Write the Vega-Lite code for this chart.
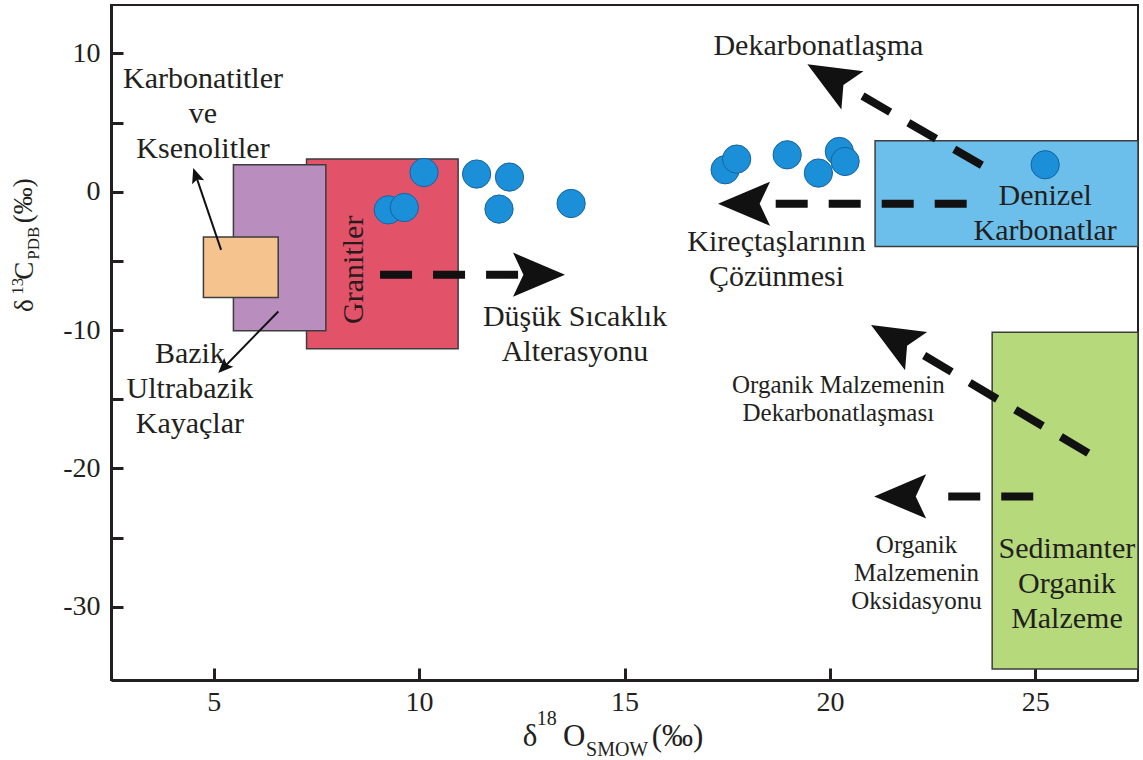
{
  "$schema": "https://vega.github.io/schema/vega-lite/v6.json",
  "width": 1027,
  "height": 675,
  "autosize": {"type": "none"},
  "padding": {"left": 111, "top": 5, "right": 5, "bottom": 80},
  "background": "white",
  "config": {
    "view": {"stroke": "#231f20", "strokeWidth": 2},
    "font": "Liberation Serif",
    "axis": {
      "grid": false,
      "labelFont": "Liberation Serif",
      "labelFontSize": 28,
      "labelColor": "#231f20",
      "domainColor": "#231f20",
      "domainWidth": 3,
      "tickColor": "#231f20",
      "tickWidth": 3,
      "tickSize": -12,
      "labelFlush": false,
      "labelOverlap": false
    }
  },
  "layer": [
    {
      "data": {"values": [
        {"name": "Granitler", "x": 7.26, "x2": 10.95, "y": 2.36, "y2": -11.35},
        {"name": "Bazik", "x": 5.48, "x2": 7.73, "y": 1.95, "y2": -10.05},
        {"name": "Karbonatitler", "x": 4.75, "x2": 6.57, "y": -3.28, "y2": -7.65},
        {"name": "Denizel", "x": 21.1, "x2": 27.5, "y": 3.69, "y2": -3.96},
        {"name": "Sedimanter", "x": 23.95, "x2": 27.5, "y": -10.15, "y2": -34.5}
      ]},
      "mark": {"type": "rect", "stroke": "#3d3d3d", "strokeWidth": 1.5, "opacity": 1},
      "encoding": {
        "x": {"field": "x", "type": "quantitative", "title": null,
          "scale": {"domain": [2.5, 27.5], "nice": false, "zero": false},
          "axis": {"values": [5, 10, 15, 20, 25], "labelPadding": 20, "title": null,
            "labelExpr": "'' + datum.value"}},
        "x2": {"field": "x2"},
        "y": {"field": "y", "type": "quantitative", "title": null,
          "scale": {"domain": [-35.3, 13.5], "nice": false, "zero": false},
          "axis": {"values": [-30, -25, -20, -15, -10, -5, 0, 5, 10], "labelPadding": 23, "title": null,
            "labelExpr": "datum.value % 10 === 0 ? '' + datum.value : ''"}},
        "y2": {"field": "y2"},
        "color": {"field": "name", "type": "nominal", "legend": null,
          "scale": {"domain": ["Granitler", "Bazik", "Karbonatitler", "Denizel", "Sedimanter"],
            "range": ["#e2536a", "#b98dbe", "#f5c38e", "#6cbfea", "#b5d97b"]}}
      }
    },
    {
      "data": {"values": [
        {"x": 10.12, "y": 1.39},
        {"x": 9.25, "y": -1.31},
        {"x": 9.64, "y": -1.14},
        {"x": 11.40, "y": 1.28},
        {"x": 12.20, "y": 1.06},
        {"x": 11.945, "y": -1.255},
        {"x": 13.70, "y": -0.85},
        {"x": 17.45, "y": 1.59},
        {"x": 17.73, "y": 2.36},
        {"x": 18.96, "y": 2.67},
        {"x": 19.72, "y": 1.35},
        {"x": 20.23, "y": 2.91},
        {"x": 20.37, "y": 2.19},
        {"x": 25.24, "y": 1.95}
      ]},
      "mark": {"type": "point", "shape": "circle", "filled": true, "size": 800, "fill": "#1b8fd8", "stroke": "#16639e", "strokeWidth": 1, "opacity": 1},
      "encoding": {
        "x": {"field": "x", "type": "quantitative", "title": null},
        "y": {"field": "y", "type": "quantitative", "title": null}
      }
    },
    {
      "data": {"values": [
        {"x": 9.05, "y": -6.0, "x2": 12.456, "y2": -6.0},
        {"x": 23.33, "y": -0.87, "x2": 18.42, "y2": -0.87},
        {"x": 23.70, "y": 1.91, "x2": 20.53, "y2": 7.37},
        {"x": 26.29, "y": -18.90, "x2": 22.13, "y2": -11.55},
        {"x": 24.95, "y": -22.03, "x2": 22.40, "y2": -22.03}
      ]},
      "mark": {"type": "rule", "color": "#111111", "strokeWidth": 8, "strokeDash": [32, 21], "strokeCap": "butt"},
      "encoding": {
        "x": {"field": "x", "type": "quantitative", "title": null},
        "y": {"field": "y", "type": "quantitative", "title": null},
        "x2": {"field": "x2"},
        "y2": {"field": "y2"}
      }
    },
    {
      "data": {"values": [
        {"x": 5.18, "y": -4.20, "x2": 4.562, "y2": 1.196},
        {"x": 6.573, "y": -8.658, "x2": 5.239, "y2": -12.721}
      ]},
      "mark": {"type": "rule", "color": "#111111", "strokeWidth": 2},
      "encoding": {
        "x": {"field": "x", "type": "quantitative", "title": null},
        "y": {"field": "y", "type": "quantitative", "title": null},
        "x2": {"field": "x2"},
        "y2": {"field": "y2"}
      }
    },
    {
      "data": {"values": [{"x": 12.919, "y": -6.0}]},
      "mark": {"type": "point", "shape": "M1,0L-1,-0.85L-0.6,0L-1,0.85Z", "filled": true, "size": 2704, "angle": 0, "color": "#111111", "opacity": 1},
      "encoding": {"x": {"field": "x", "type": "quantitative", "title": null}, "y": {"field": "y", "type": "quantitative", "title": null}}
    },
    {
      "data": {"values": [{"x": 17.91, "y": -0.87}, {"x": 21.71, "y": -22.03}]},
      "mark": {"type": "point", "shape": "M1,0L-1,-0.85L-0.6,0L-1,0.85Z", "filled": true, "size": 2704, "angle": 180, "color": "#111111", "opacity": 1},
      "encoding": {"x": {"field": "x", "type": "quantitative", "title": null}, "y": {"field": "y", "type": "quantitative", "title": null}}
    },
    {
      "data": {"values": [{"x": 20.0, "y": 8.274}, {"x": 21.55, "y": -10.58}]},
      "mark": {"type": "point", "shape": "M1,0L-1,-0.85L-0.6,0L-1,0.85Z", "filled": true, "size": 2704, "angle": 210, "color": "#111111", "opacity": 1},
      "encoding": {"x": {"field": "x", "type": "quantitative", "title": null}, "y": {"field": "y", "type": "quantitative", "title": null}}
    },
    {
      "data": {"values": [{"x": 4.562, "y": 1.196}]},
      "mark": {"type": "point", "shape": "M1,0L-1,-0.85L-0.6,0L-1,0.85Z", "filled": true, "size": 225, "angle": 251, "color": "#111111", "opacity": 1},
      "encoding": {"x": {"field": "x", "type": "quantitative", "title": null}, "y": {"field": "y", "type": "quantitative", "title": null}}
    },
    {
      "data": {"values": [{"x": 5.239, "y": -12.721}]},
      "mark": {"type": "point", "shape": "M1,0L-1,-0.85L-0.6,0L-1,0.85Z", "filled": true, "size": 225, "angle": 134, "color": "#111111", "opacity": 1},
      "encoding": {"x": {"field": "x", "type": "quantitative", "title": null}, "y": {"field": "y", "type": "quantitative", "title": null}}
    },
    {
      "data": {"values": [
        {"label": "Karbonatitler\nve\nKsenolitler", "x": 4.74, "y": 7.515},
        {"label": "Bazik\nUltrabazik\nKayaçlar", "x": 4.42, "y": -12.39},
        {"label": "Düşük Sıcaklık\nAlterasyonu", "x": 13.795, "y": -9.74},
        {"label": "Dekarbonatlaşma", "x": 19.72, "y": 9.90},
        {"label": "Kireçtaşlarının\nÇözünmesi", "x": 18.70, "y": -4.32},
        {"label": "Denizel\nKarbonatlar", "x": 25.24, "y": -0.944},
        {"label": "Sedimanter\nOrganik\nMalzeme", "x": 25.77, "y": -26.47}
      ]},
      "mark": {"type": "text", "font": "Liberation Serif", "fontSize": 30, "lineHeight": 35, "lineBreak": "\n", "align": "center", "baseline": "alphabetic", "color": "#231f20", "clip": true},
      "encoding": {
        "x": {"field": "x", "type": "quantitative", "title": null},
        "y": {"field": "y", "type": "quantitative", "title": null},
        "text": {"field": "label", "type": "nominal"}
      }
    },
    {
      "data": {"values": [
        {"label": "Organik Malzemenin\nDekarbonatlaşması", "x": 20.205, "y": -14.56},
        {"label": "Organik\nMalzemenin\nOksidasyonu", "x": 22.11, "y": -26.13}
      ]},
      "mark": {"type": "text", "font": "Liberation Serif", "fontSize": 25, "lineHeight": 28, "lineBreak": "\n", "align": "center", "baseline": "alphabetic", "color": "#231f20"},
      "encoding": {
        "x": {"field": "x", "type": "quantitative", "title": null},
        "y": {"field": "y", "type": "quantitative", "title": null},
        "text": {"field": "label", "type": "nominal"}
      }
    },
    {
      "data": {"values": [{"label": "Granitler", "x": 8.634, "y": -5.64}]},
      "mark": {"type": "text", "font": "Liberation Serif", "fontSize": 30, "angle": 270, "align": "center", "baseline": "alphabetic", "color": "#2a1a1c"},
      "encoding": {
        "x": {"field": "x", "type": "quantitative", "title": null},
        "y": {"field": "y", "type": "quantitative", "title": null},
        "text": {"field": "label", "type": "nominal"}
      }
    },
    {
      "data": {"values": [
        {"label": "δ", "x": 12.522, "y": -40.06},
        {"label": "O", "x": 13.503, "y": -40.06},
        {"label": "(‰)", "x": 15.662, "y": -40.06}
      ]},
      "mark": {"type": "text", "font": "Liberation Serif", "fontSize": 31, "align": "left", "baseline": "alphabetic", "color": "#231f20"},
      "encoding": {
        "x": {"field": "x", "type": "quantitative", "title": null},
        "y": {"field": "y", "type": "quantitative", "title": null},
        "text": {"field": "label", "type": "nominal"}
      }
    },
    {
      "data": {"values": [
        {"label": "18", "x": 12.863, "y": -38.54},
        {"label": "SMOW", "x": 14.063, "y": -40.78}
      ]},
      "mark": {"type": "text", "font": "Liberation Serif", "fontSize": 20, "align": "left", "baseline": "alphabetic", "color": "#231f20"},
      "encoding": {
        "x": {"field": "x", "type": "quantitative", "title": null},
        "y": {"field": "y", "type": "quantitative", "title": null},
        "text": {"field": "label", "type": "nominal"}
      }
    },
    {
      "data": {"values": [
        {"label": "δ", "x": 0.601, "y": -8.70},
        {"label": "C", "x": 0.601, "y": -6.37},
        {"label": "(‰)", "x": 0.577, "y": -2.27}
      ]},
      "mark": {"type": "text", "font": "Liberation Serif", "fontSize": 27, "angle": 270, "align": "left", "baseline": "alphabetic", "color": "#231f20"},
      "encoding": {
        "x": {"field": "x", "type": "quantitative", "title": null},
        "y": {"field": "y", "type": "quantitative", "title": null},
        "text": {"field": "label", "type": "nominal"}
      }
    },
    {
      "data": {"values": [
        {"label": "13", "x": 0.37, "y": -7.45},
        {"label": "PDB", "x": 0.747, "y": -4.92}
      ]},
      "mark": {"type": "text", "font": "Liberation Serif", "fontSize": 17, "angle": 270, "align": "left", "baseline": "alphabetic", "color": "#231f20"},
      "encoding": {
        "x": {"field": "x", "type": "quantitative", "title": null},
        "y": {"field": "y", "type": "quantitative", "title": null},
        "text": {"field": "label", "type": "nominal"}
      }
    }
  ]
}
